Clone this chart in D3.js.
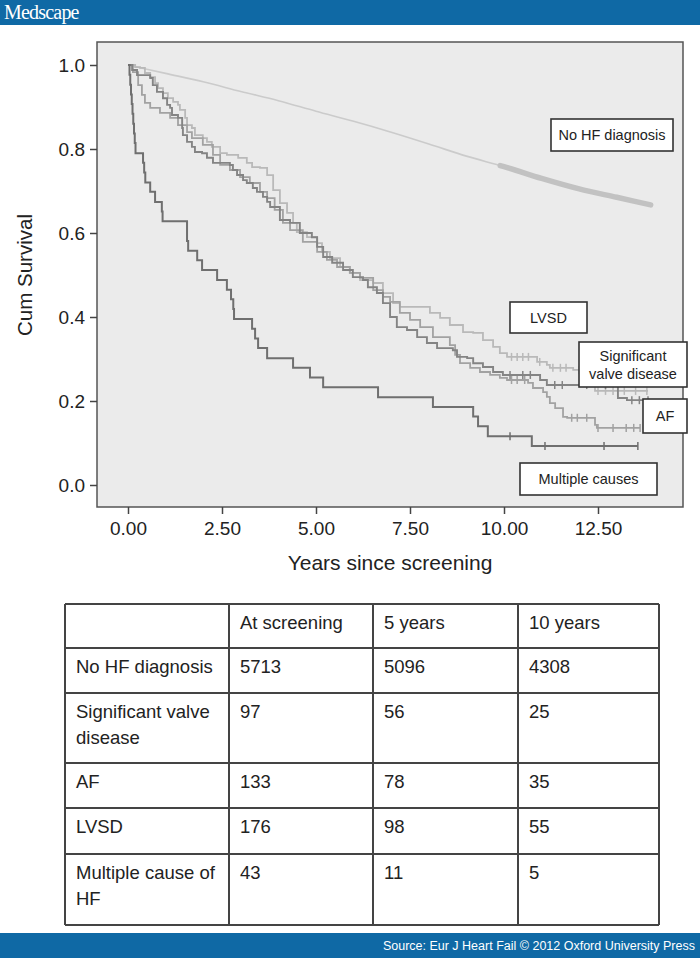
<!DOCTYPE html>
<html>
<head>
<meta charset="utf-8">
<script src="https://cdn.jsdelivr.net/npm/d3@7"></script>
<style>
  html, body { margin: 0; padding: 0; background: #fff; }
  svg { display: block; }
  text { font-family: "Liberation Sans", Arial, sans-serif; }
</style>
</head>
<body>
<svg id="chart" width="700" height="958"></svg>
<script>
// ---------------- DATA ----------------
const xTicks = [0, 2.5, 5, 7.5, 10, 12.5];
const yTicks = [0, 0.2, 0.4, 0.6, 0.8, 1.0];

const noHfTimes = [0, 1, 2, 3, 4, 5, 6, 7, 8, 9, 10, 11, 12, 13, 13.9];
const noHfSurv  = [1, 0.98, 0.96, 0.937, 0.915, 0.89, 0.866, 0.84, 0.812, 0.783, 0.758, 0.73, 0.705, 0.685, 0.667];
const noHfCensorStart = 9.9;

const lvsdTimes = [0,0.19,0.32,0.45,0.59,0.72,0.8,0.93,1.06,1.2,1.33,1.38,1.52,1.57,1.7,1.78,1.99,2.1,2.23,2.45,2.63,2.93,3.16,3.3,3.51,3.7,3.86,4.04,4.23,4.39,4.49,4.76,5.03,5.16,5.37,5.64,5.9,6.17,6.52,6.78,7.05,7.23,8.03,8.3,8.56,8.91,9.18,9.44,9.71,9.89,10.08,10.88,11.14,11.22,11.84,12.42,13.83];
const lvsdSurv  = [1,0.995,0.993,0.981,0.971,0.957,0.945,0.933,0.921,0.912,0.905,0.893,0.874,0.857,0.85,0.833,0.826,0.817,0.805,0.79,0.786,0.779,0.767,0.757,0.755,0.738,0.702,0.671,0.648,0.624,0.602,0.59,0.576,0.555,0.54,0.519,0.505,0.488,0.481,0.457,0.433,0.424,0.41,0.398,0.381,0.364,0.362,0.345,0.329,0.314,0.305,0.293,0.286,0.279,0.274,0.224,0.224];
const lvsdCensor = [10.2,10.35,10.5,10.65,10.95,11.3,11.5,11.65,12.0,12.5,12.7,12.9,13.2,13.5,13.8];

const valveTimes = [0,0.11,0.24,0.59,0.66,0.77,0.93,1.04,1.12,1.17,1.33,1.44,1.46,1.57,1.7,1.78,1.97,2.1,2.26,2.71,2.79,2.9,3.06,3.16,3.32,3.43,3.59,3.7,3.78,4.04,4.31,4.57,4.89,5.03,5.19,5.43,5.72,5.98,6.25,6.38,6.62,6.78,6.97,7.15,7.42,7.69,7.95,8.22,8.64,8.75,9.02,9.18,9.44,9.71,9.97,10.96,11.14,13.03,13.27,13.83];
const valveSurv  = [1,0.988,0.976,0.969,0.952,0.936,0.921,0.905,0.898,0.881,0.874,0.85,0.833,0.817,0.805,0.793,0.79,0.779,0.767,0.762,0.75,0.738,0.726,0.719,0.707,0.698,0.686,0.674,0.662,0.631,0.624,0.6,0.59,0.567,0.543,0.529,0.512,0.495,0.488,0.471,0.457,0.433,0.4,0.376,0.369,0.352,0.338,0.326,0.321,0.305,0.302,0.29,0.281,0.269,0.262,0.25,0.238,0.207,0.202,0.202];
const valveCensor = [10.16,10.5,10.7,11.35,11.55,12.2,12.7,13.4,13.6,13.83];

const afTimes = [0,0.13,0.27,0.37,0.45,0.59,0.85,1.12,1.33,1.57,1.7,1.99,2.26,2.45,2.71,2.98,3.24,3.51,3.7,3.9,4.12,4.31,4.65,5.03,5.29,5.56,5.9,6.17,6.52,6.78,6.97,7.23,7.5,7.77,8.11,8.56,8.7,8.83,9.1,9.36,9.63,9.89,10.08,10.64,10.77,11.04,11.14,11.22,11.36,11.57,11.68,12.42,12.47,13.62];
const afSurv  = [1,0.983,0.952,0.929,0.91,0.898,0.886,0.874,0.857,0.84,0.826,0.81,0.786,0.762,0.75,0.733,0.719,0.698,0.683,0.655,0.624,0.607,0.579,0.555,0.536,0.519,0.505,0.493,0.464,0.448,0.436,0.41,0.393,0.376,0.352,0.333,0.31,0.29,0.279,0.269,0.262,0.255,0.25,0.243,0.231,0.221,0.21,0.195,0.183,0.162,0.16,0.143,0.136,0.136];
const afCensor = [10.2,10.35,10.55,11.8,11.95,12.2,12.5,12.9,13.25,13.45,13.62];

const multTimes = [0,0.04,0.06,0.08,0.1,0.12,0.14,0.16,0.18,0.2,0.4,0.43,0.46,0.59,0.72,0.9,0.92,1.57,1.6,1.84,1.97,2.37,2.63,2.74,2.8,2.82,3.3,3.38,3.46,3.7,4.39,4.84,5.19,6.65,8.11,9.18,9.31,9.57,10.74,13.56];
const multSurv  = [1,0.977,0.953,0.93,0.907,0.884,0.86,0.837,0.814,0.79,0.767,0.744,0.72,0.698,0.674,0.651,0.628,0.581,0.558,0.535,0.512,0.488,0.465,0.442,0.419,0.395,0.372,0.349,0.326,0.302,0.279,0.256,0.233,0.209,0.186,0.163,0.14,0.116,0.093,0.093];
const multCensor = [10.16,11.09,12.66,13.56];

const curveLabels = ["No HF diagnosis", "LVSD", "Significant valve disease", "AF", "Multiple causes"];

const tableHeader = ["", "At screening", "5 years", "10 years"];
const tableRowLabels = [["No HF diagnosis"], ["Significant valve", "disease"], ["AF"], ["LVSD"], ["Multiple cause of", "HF"]];
const atScreening = [5713, 97, 133, 176, 43];
const fiveYears   = [5096, 56, 78, 98, 11];
const tenYears    = [4308, 25, 35, 55, 5];

const yTitle = "Cum Survival";
const xTitle = "Years since screening";
const brand = "Medscape";
const source = "Source: Eur J Heart Fail \u00A9 2012 Oxford University Press";

// ---------------- LAYOUT ----------------
const svg = d3.select("#chart");
const W = 700, H = 958;
const blue = "#0f69a5";
const frame = {x: 97, y: 42, w: 586, h: 465};

const x = d3.scaleLinear().domain([0, 12.5]).range([128, 598]);
const y = d3.scaleLinear().domain([0, 1]).range([485, 65]);

// header / footer bars
svg.append("rect").attr("x", 0).attr("y", 0).attr("width", W).attr("height", 25).attr("fill", blue);
svg.append("text").attr("x", 4).attr("y", 19).attr("fill", "#fff")
  .style("font-family", "'Liberation Serif', 'DejaVu Serif', serif").style("font-size", "20px")
  .style("letter-spacing", "-0.8px").text(brand);
svg.append("rect").attr("x", 0).attr("y", 933).attr("width", W).attr("height", 25).attr("fill", blue);
svg.append("text").attr("x", 695).attr("y", 950).attr("text-anchor", "end").attr("fill", "#fff")
  .style("font-size", "12.5px").text(source);

// plot frame
svg.append("rect").attr("x", frame.x).attr("y", frame.y).attr("width", frame.w).attr("height", frame.h)
  .attr("fill", "#ebebeb").attr("stroke", "#555").attr("stroke-width", 1.5);

// axes
const yAxis = svg.append("g").attr("transform", `translate(${frame.x},0)`)
  .call(d3.axisLeft(y).tickValues(yTicks).tickSize(7).tickPadding(5).tickFormat(d => d.toFixed(1)));
const xAxis = svg.append("g").attr("transform", `translate(0,${frame.y + frame.h})`)
  .call(d3.axisBottom(x).tickValues(xTicks).tickSize(7).tickPadding(8).tickFormat(d => d.toFixed(2)));
[yAxis, xAxis].forEach(g => {
  g.select(".domain").remove();
  g.selectAll(".tick line").attr("stroke", "#444").attr("stroke-width", 1.5);
  g.selectAll(".tick text").attr("fill", "#222").style("font-size", "19px")
    .style("font-family", "'Liberation Sans', Arial, sans-serif");
});

// axis titles
svg.append("text").attr("transform", "translate(32,275) rotate(-90)").attr("text-anchor", "middle")
  .attr("fill", "#222").style("font-size", "20.5px").text(yTitle);
svg.append("text").attr("x", 390).attr("y", 570).attr("text-anchor", "middle")
  .attr("fill", "#222").style("font-size", "21px").text(xTitle);

// curves
const plot = svg.append("g");
const stepLine = d3.line().x(d => x(d[0])).y(d => y(d[1])).curve(d3.curveStepAfter);
const smoothLine = d3.line().x(d => x(d[0])).y(d => y(d[1])).curve(d3.curveMonotoneX);
const zip = (a, b) => a.map((t, i) => [t, b[i]]);
const survAt = (times, surv, t) => surv[Math.max(0, d3.bisectRight(times, t) - 1)];

// No HF: smooth line + dense censor band
const noHf = zip(noHfTimes, noHfSurv);
plot.append("path").attr("d", smoothLine(noHf)).attr("fill", "none")
  .attr("stroke", "#cbcbcb").attr("stroke-width", 1.6);
const interp = d3.scaleLinear().domain(noHfTimes).range(noHfSurv);
const band = [noHfCensorStart].concat(noHfTimes.filter(t => t > noHfCensorStart));
plot.append("path").attr("d", smoothLine(band.map(t => [t, interp(t)]))).attr("fill", "none")
  .attr("stroke", "#c2c2c2").attr("stroke-width", 5.5).attr("stroke-linecap", "round");

const series = [
  {times: lvsdTimes, surv: lvsdSurv, censor: lvsdCensor, color: "#b9b9b9", w: 1.8},
  {times: afTimes, surv: afSurv, censor: afCensor, color: "#a2a2a2", w: 1.8},
  {times: valveTimes, surv: valveSurv, censor: valveCensor, color: "#848484", w: 1.9},
  {times: multTimes, surv: multSurv, censor: multCensor, color: "#6f6f6f", w: 2}
];
series.forEach(s => {
  plot.append("path").attr("d", stepLine(zip(s.times, s.surv))).attr("fill", "none")
    .attr("stroke", s.color).attr("stroke-width", s.w);
  plot.selectAll(null).data(s.censor).enter().append("line")
    .attr("x1", t => x(t)).attr("x2", t => x(t))
    .attr("y1", t => y(survAt(s.times, s.surv, t)) - 4)
    .attr("y2", t => y(survAt(s.times, s.surv, t)) + 4)
    .attr("stroke", s.color).attr("stroke-width", 1.5);
});

// label boxes
const boxLayout = [
  {x: 551, y: 119, w: 122, h: 32},
  {x: 510, y: 302, w: 77, h: 31},
  {x: 579, y: 342, w: 108, h: 45, lines: ["Significant", "valve disease"]},
  {x: 643, y: 399, w: 44, h: 34},
  {x: 520, y: 463, w: 137, h: 32}
];
curveLabels.forEach((lab, i) => {
  const b = boxLayout[i];
  svg.append("rect").attr("x", b.x).attr("y", b.y).attr("width", b.w).attr("height", b.h)
    .attr("fill", "#fff").attr("stroke", "#333").attr("stroke-width", 1.6);
  const lines = b.lines || [lab];
  const t = svg.append("text").attr("text-anchor", "middle").attr("fill", "#222").style("font-size", "14.5px");
  lines.forEach((ln, j) => {
    t.append("tspan").attr("x", b.x + b.w / 2)
      .attr("y", b.y + b.h / 2 + (j - (lines.length - 1) / 2) * 18 + 5).text(ln);
  });
});

// table
const colX = [65, 229, 373, 518, 659];
const rowY = [604, 648, 693, 763, 808, 854, 925];
const tbl = svg.append("g");
tableHeader.forEach((h, c) => {
  if (h) tbl.append("text").attr("x", colX[c] + 11).attr("y", rowY[0] + 25)
    .attr("fill", "#222").style("font-size", "18.5px").text(h);
});
tableRowLabels.forEach((lines, r) => {
  const top = rowY[r + 1];
  lines.forEach((ln, j) => {
    tbl.append("text").attr("x", colX[0] + 11).attr("y", top + 25 + j * 26)
      .attr("fill", "#222").style("font-size", "18.5px").text(ln);
  });
  [atScreening, fiveYears, tenYears].forEach((arr, c) => {
    tbl.append("text").attr("x", colX[c + 1] + 11).attr("y", top + 25)
      .attr("fill", "#222").style("font-size", "18.5px").text(arr[r]);
  });
});
rowY.forEach(yy => tbl.append("line").attr("x1", colX[0]).attr("x2", colX[4]).attr("y1", yy).attr("y2", yy)
  .attr("stroke", "#444").attr("stroke-width", 2));
colX.forEach(xx => tbl.append("line").attr("x1", xx).attr("x2", xx).attr("y1", rowY[0]).attr("y2", rowY[6])
  .attr("stroke", "#444").attr("stroke-width", 2));
</script>
</body>
</html>
